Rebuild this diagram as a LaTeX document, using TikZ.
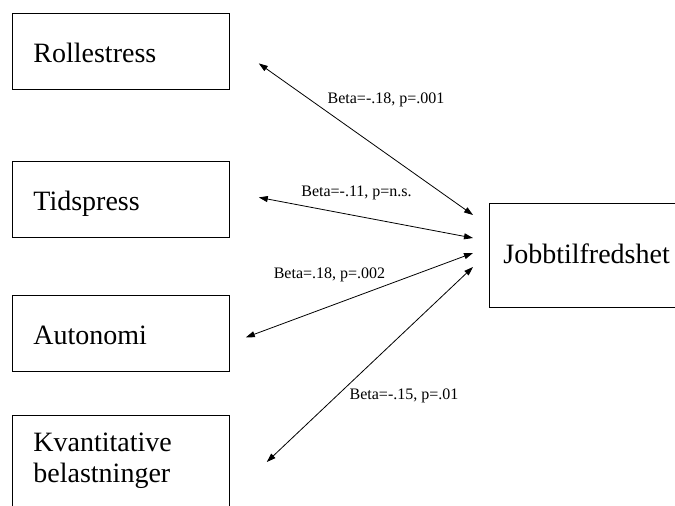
\documentclass[tikz,border=0pt]{standalone}
\usepackage{fontspec}
\setmainfont{Liberation Serif}
\usetikzlibrary{arrows.meta}
\begin{document}
\begin{tikzpicture}[x=1pt,y=-1pt,
  factor/.style={draw,line width=0.8pt,anchor=north west,minimum width=217pt,minimum height=76pt,
    text width=175pt,align=left,inner xsep=21pt,inner ysep=0pt,text height=22pt,text depth=0pt,
    font=\fontsize{28}{31}\selectfont},
  outcome/.style={draw,line width=0.8pt,anchor=west,minimum height=104pt,
    text width=250pt,align=left,inner xsep=14pt,text height=16pt,text depth=0pt,
    font=\fontsize{28}{30}\selectfont},
  beta/.style={font=\fontsize{16}{18}\selectfont,inner sep=0pt},
  link/.style={line width=0.8pt,{Triangle[length=9pt,width=6pt]}-{Triangle[length=9pt,width=6pt]}}]
\useasboundingbox (0,0) rectangle (675,506);
\clip (0,0) rectangle (675,506);
% boxes
\node[factor] (rolle) at (12,13) {Rollestress};
\node[factor] (tids) at (12,161) {Tidspress};
\node[factor] (auto) at (12,295) {Autonomi};
\node[factor,text height=19pt,text depth=50pt,inner ysep=17.5pt] (kvant) at (12,415) {Kvantitative\\belastninger};
\node[outcome] (job) at (489,255) {Jobbtilfredshet};
% paths
\draw[link] ([shift={(29,12)}]rolle.east) -- ([shift={(-16,-40)}]job.west);
\draw[link] ([shift={(29,-2)}]tids.east) -- ([shift={(-16,-17)}]job.west);
\draw[link] ([shift={(16,4)}]auto.east) -- ([shift={(-16,-2)}]job.west);
\draw[link] ([shift={(37,47)}]kvant.north east) -- ([shift={(-16,12)}]job.west);
% betas
\node[beta] (b1) at (386,99.5) {Beta=-.18, p=.001};
\node[beta] (b2) at (356.5,193) {Beta=-.11, p=n.s.};
\node[beta] (b3) at (329.5,274.5) {Beta=.18, p=.002};
\node[beta] (b4) at (404,396) {Beta=-.15, p=.01};
\end{tikzpicture}
\end{document}
